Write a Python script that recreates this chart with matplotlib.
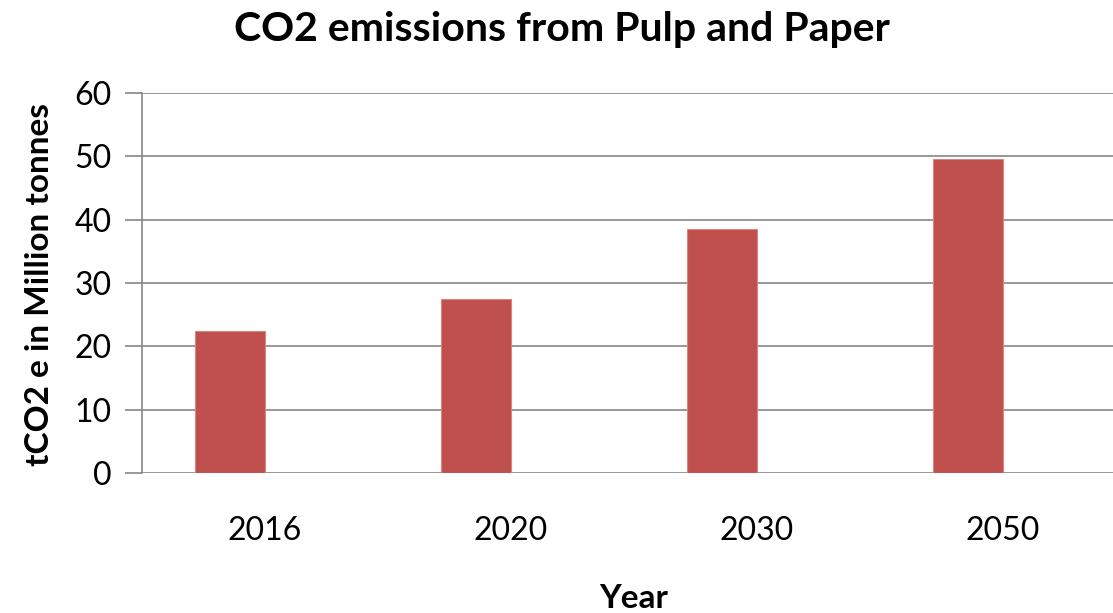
import numpy as np
import matplotlib.pyplot as plt

plt.rcParams['font.family'] = ['Lato', 'DejaVu Sans']

years = ['2016', '2020', '2030', '2050']
emissions = [22.4, 27.5, 38.5, 49.6]

W, H = 1113, 613
fig = plt.figure(figsize=(W / 100, H / 100), dpi=100)
# plot area runs past the right edge, like the original
ax = fig.add_axes([142 / W, (H - 473) / H, 984 / W, 380 / H])

x = np.arange(len(years))
bw = 0.285
ax.bar(x - bw, emissions, width=bw, align='edge', color='#C0504D',
       edgecolor='#D98583', linewidth=0.8, zorder=3)

ax.set_xlim(-0.5, 3.5)
ax.set_ylim(0, 60)
ax.set_yticks(range(0, 61, 10))
ax.set_xticks(x)
ax.set_xticklabels(years)
ax.yaxis.grid(True, color='#868686', linewidth=1.2, zorder=0)
ax.set_axisbelow(True)

for s in ['top', 'right', 'bottom']:
    ax.spines[s].set_visible(False)
ax.spines['left'].set_color('#868686')
ax.spines['left'].set_linewidth(1.2)
ax.tick_params(axis='y', length=12, width=1.2, color='#868686',
               labelsize=23, pad=10)
ax.tick_params(axis='x', length=0, labelsize=23, pad=31)

fig.text(562 / W, 1 - 30 / H, 'CO2 emissions from Pulp and Paper',
         fontsize=29.5, fontweight='bold', ha='center', va='center')
fig.text(634 / W, 1 - 598 / H, 'Year', fontsize=24, fontweight='bold',
         ha='center', va='center')
fig.text(40 / W, 1 - 285 / H, 'tCO2 e in Million tonnes', fontsize=24,
         fontweight='bold', rotation=90, ha='center', va='center')

fig.savefig('out.png', dpi=100)
